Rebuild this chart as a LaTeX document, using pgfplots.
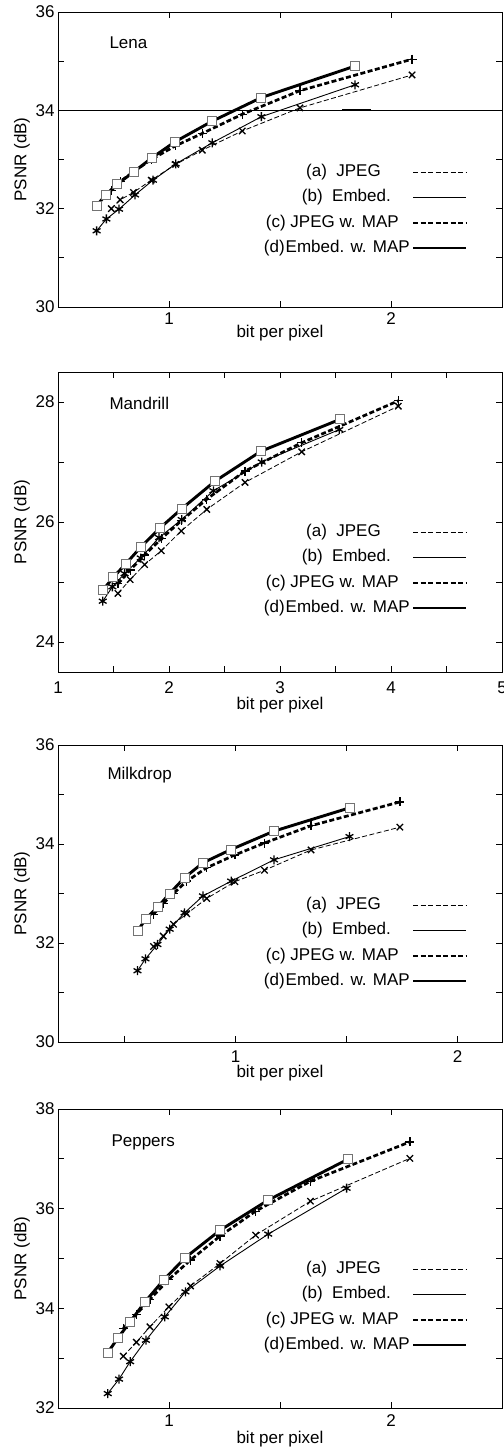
\documentclass[border=0pt]{standalone}
\usepackage{fontspec}
\setmainfont{Liberation Sans}
\usepackage{pgfplots}
\pgfplotsset{compat=1.18}

\newcommand\bigf{\fontsize{17}{20}\selectfont}

\pgfplotsset{
  panel/.style={
    scale only axis, width=444pt, anchor=north west,
    axis line style={line width=0.8pt},
    tick style={black, line width=0.8pt},
    major tick length=6pt, minor tick length=6pt,
    tick align=inside, xtick pos=both, ytick pos=both,
    /pgf/number format/assume math mode=true,
    tick label style={font=\bigf},
    xlabel={bit per pixel}, ylabel={PSNR (dB)},
    every axis y label/.style={at={(axis description cs:0,0.5)}, xshift=-36pt,
      rotate=90, anchor=center, font=\bigf},
    every axis x label/.style={at={(axis description cs:0.5,0)},
      anchor=center, font=\bigf},
  },
  ja/.style={black, line width=0.8pt, dash pattern=on 5pt off 2.5pt,
    mark=x, mark size=4.5pt, mark options={solid, line width=1.3pt}},
  em/.style={black, line width=0.9pt,
    mark=asterisk, mark size=4.5pt, mark options={solid, line width=1.3pt}},
  jm/.style={black, line width=2.7pt, dash pattern=on 5pt off 2.5pt,
    mark=+, mark size=4.5pt, mark options={solid, line width=1.3pt}},
  emap/.style={black, line width=2.9pt,
    mark=square*, mark size=4.5pt,
    mark options={solid, fill=white, draw=black!55, line width=0.9pt}},
}

% legend block, #1 = top of the panel in px
\newcommand\legendat[1]{%
  \begin{scope}[shift={(58pt,-#1pt)}]
    \node[anchor=east, inner sep=0pt, font=\bigf] at (323pt,-160pt) {(a)\ \ JPEG};
    \node[anchor=east, inner sep=0pt, font=\bigf] at (333pt,-185pt) {(b)\ \ Embed.};
    \node[anchor=east, inner sep=0pt, font=\bigf] at (341pt,-211pt) {(c) JPEG w. MAP};
    \node[anchor=east, inner sep=0pt, font=\bigf] at (352pt,-236pt) {(d)\hspace{1pt}Embed. w. MAP};
    \draw[black, line width=0.8pt, dash pattern=on 5pt off 2.5pt] (355pt,-160pt) -- (408pt,-160pt);
    \draw[black, line width=0.9pt] (355pt,-185pt) -- (408pt,-185pt);
    \draw[black, line width=2.7pt, dash pattern=on 5pt off 2.5pt] (355pt,-211pt) -- (408pt,-211pt);
    \draw[black, line width=2.9pt] (355pt,-236pt) -- (408pt,-236pt);
  \end{scope}}

\begin{document}
\begin{tikzpicture}
\useasboundingbox (0,0) rectangle (503pt,-1447pt);

% ---------------- Lena
\begin{axis}[panel, at={(58pt,-12pt)}, height=295pt,
  xmin=0.5, xmax=2.5, ymin=30, ymax=36,
  xtick={1,2}, minor xtick={1.5},
  ytick={30,32,34,36}, minor ytick={31,33,35},
  xticklabel style={anchor=center, yshift=-12pt},
  xlabel style={yshift=-26pt}]
\addplot[black, line width=0.6pt, forget plot] coordinates {(0.5,34) (2.5,34)};
\addplot[black, line width=1.8pt, forget plot] coordinates {(1.78,34) (1.91,34)};
\addplot[ja] coordinates {(0.74,32.00) (0.78,32.18) (0.84,32.33) (0.92,32.58) (1.03,32.90)
  (1.15,33.19) (1.33,33.58) (1.59,34.05) (2.095,34.72)};
\addplot[em] coordinates {(0.674,31.55) (0.718,31.79) (0.775,31.99) (0.847,32.28) (0.928,32.58)
  (1.03,32.91) (1.195,33.34) (1.416,33.87) (1.838,34.52)};
\addplot[jm] coordinates {(0.74,32.37) (0.78,32.55) (0.84,32.75) (0.92,33.00) (1.03,33.28)
  (1.15,33.53) (1.33,33.92) (1.59,34.40) (2.095,35.04)};
\addplot[emap] coordinates {(0.674,32.06) (0.715,32.28) (0.767,32.50) (0.842,32.75) (0.925,33.04)
  (1.027,33.36) (1.195,33.78) (1.416,34.26) (1.838,34.90)};
\node[anchor=west, font=\bigf, xshift=48pt, yshift=-31pt] at (rel axis cs:0,1) {Lena};
\end{axis}
\legendat{12}

% ---------------- Mandrill
\begin{axis}[panel, at={(58pt,-372pt)}, height=300pt,
  xmin=1, xmax=5, ymin=23.5, ymax=28.5,
  xtick={1,2,3,4,5}, minor xtick={1.5,2.5,3.5,4.5},
  ytick={24,26,28}, minor ytick={25,27},
  xticklabel style={anchor=center, yshift=-16pt},
  xlabel style={yshift=-33pt}]
\addplot[ja] coordinates {(1.54,24.81) (1.65,25.04) (1.78,25.29) (1.93,25.52) (2.11,25.85)
  (2.34,26.21) (2.685,26.66) (3.195,27.17) (4.066,27.93)};
\addplot[em] coordinates {(1.403,24.68) (1.49,24.92) (1.60,25.14) (1.745,25.40) (1.91,25.74)
  (2.114,26.04) (2.40,26.52) (2.835,27.00) (3.534,27.54)};
\addplot[jm] coordinates {(1.54,24.97) (1.65,25.20) (1.78,25.45) (1.93,25.72) (2.11,26.02)
  (2.34,26.38) (2.685,26.85) (3.195,27.32) (4.066,28.02)};
\addplot[emap] coordinates {(1.408,24.87) (1.498,25.08) (1.61,25.30) (1.745,25.58) (1.919,25.90)
  (2.114,26.22) (2.414,26.68) (2.829,27.18) (3.54,27.71)};
\node[anchor=west, font=\bigf, xshift=48pt, yshift=-31pt] at (rel axis cs:0,1) {Mandrill};
\end{axis}
\legendat{372}

% ---------------- Milkdrop
\begin{axis}[panel, at={(58pt,-745pt)}, height=297pt,
  xmin=0.2, xmax=2.2, ymin=30, ymax=36,
  xtick={1,2}, minor xtick={0.5,1.5},
  ytick={30,32,34,36}, minor ytick={31,33,35},
  xticklabel style={anchor=center, yshift=-15pt},
  xlabel style={yshift=-31pt}]
\addplot[ja] coordinates {(0.63,31.93) (0.674,32.14) (0.72,32.38) (0.78,32.59) (0.87,32.90)
  (0.997,33.24) (1.13,33.47) (1.34,33.88) (1.74,34.34)};
\addplot[em] coordinates {(0.558,31.44) (0.594,31.68) (0.648,31.97) (0.703,32.28) (0.77,32.61)
  (0.853,32.95) (0.98,33.25) (1.173,33.68) (1.513,34.15)};
\addplot[jm] coordinates {(0.63,32.58) (0.674,32.80) (0.72,33.00) (0.78,33.25) (0.87,33.52)
  (0.997,33.78) (1.13,34.02) (1.34,34.37) (1.74,34.85)};
\addplot[emap] coordinates {(0.558,32.24) (0.594,32.48) (0.648,32.72) (0.703,33.00) (0.77,33.32)
  (0.853,33.62) (0.98,33.89) (1.173,34.26) (1.513,34.73)};
\node[anchor=west, font=\bigf, xshift=46pt, yshift=-30pt] at (rel axis cs:0,1) {Milkdrop};
\end{axis}
\legendat{745}

% ---------------- Peppers
\begin{axis}[panel, at={(58pt,-1109pt)}, height=299pt,
  xmin=0.5, xmax=2.5, ymin=32, ymax=38,
  xtick={1,2}, minor xtick={1.5},
  ytick={32,34,36,38}, minor ytick={33,35,37},
  xticklabel style={anchor=center, yshift=-13pt},
  xlabel style={yshift=-31pt}]
\addplot[ja] coordinates {(0.794,33.04) (0.853,33.32) (0.914,33.63) (0.999,34.03) (1.097,34.45)
  (1.23,34.90) (1.39,35.47) (1.637,36.15) (2.085,37.01)};
\addplot[em] coordinates {(0.724,32.29) (0.775,32.58) (0.825,32.93) (0.896,33.36) (0.981,33.83)
  (1.074,34.33) (1.23,34.85) (1.447,35.49) (1.80,36.41)};
\addplot[jm] coordinates {(0.794,33.60) (0.853,33.88) (0.914,34.18) (0.999,34.58) (1.097,34.97)
  (1.23,35.45) (1.39,35.95) (1.637,36.55) (2.085,37.34)};
\addplot[emap] coordinates {(0.724,33.11) (0.769,33.40) (0.825,33.73) (0.892,34.13) (0.976,34.57)
  (1.074,35.02) (1.231,35.57) (1.446,36.17) (1.805,36.99)};
\node[anchor=west, font=\bigf, xshift=50pt, yshift=-33pt] at (rel axis cs:0,1) {Peppers};
\end{axis}
\legendat{1109}
\end{tikzpicture}
\end{document}
